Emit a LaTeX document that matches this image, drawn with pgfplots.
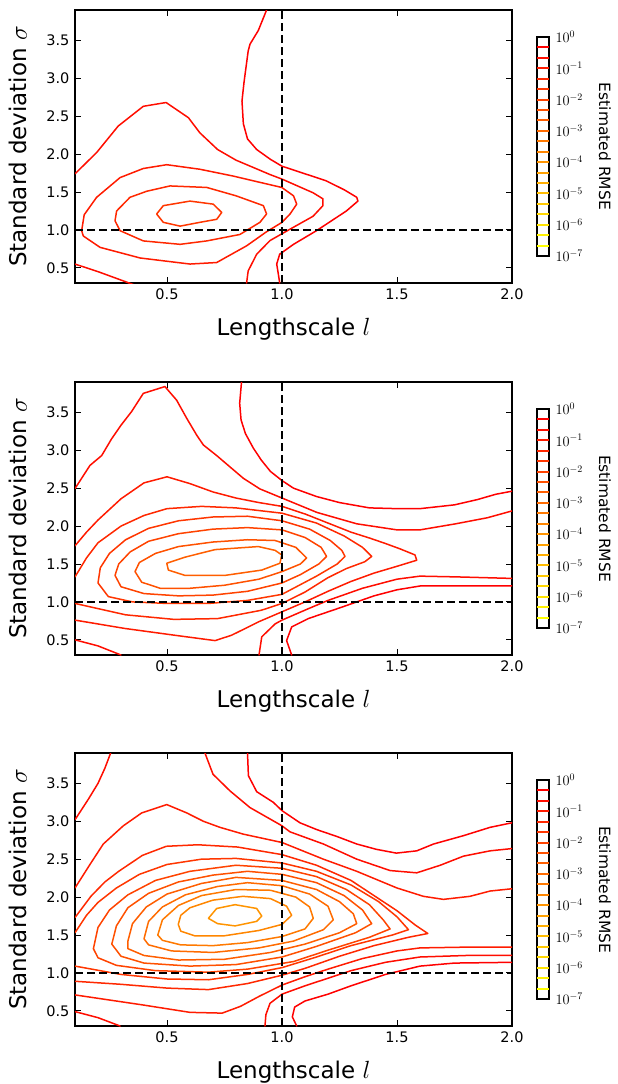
\documentclass[border=0pt]{standalone}
\usepackage{fontspec}
\setmainfont{DejaVu Sans}
\usepackage{pgfplots}
\pgfplotsset{compat=1.18}

\definecolor{c1}{rgb}{1,1,0}
\definecolor{c2}{rgb}{1,0.9474,0}
\definecolor{c3}{rgb}{1,0.8947,0}
\definecolor{c4}{rgb}{1,0.8421,0}
\definecolor{c5}{rgb}{1,0.7895,0}
\definecolor{c6}{rgb}{1,0.7368,0}
\definecolor{c7}{rgb}{1,0.6842,0}
\definecolor{c8}{rgb}{1,0.6316,0}
\definecolor{c9}{rgb}{1,0.5789,0}
\definecolor{c10}{rgb}{1,0.5263,0}
\definecolor{c11}{rgb}{1,0.4737,0}
\definecolor{c12}{rgb}{1,0.4211,0}
\definecolor{c13}{rgb}{1,0.3684,0}
\definecolor{c14}{rgb}{1,0.3158,0}
\definecolor{c15}{rgb}{1,0.2632,0}
\definecolor{c16}{rgb}{1,0.2105,0}
\definecolor{c17}{rgb}{1,0.1579,0}
\definecolor{c18}{rgb}{1,0.1053,0}
\definecolor{c19}{rgb}{1,0.0526,0}
\definecolor{c20}{rgb}{1,0,0}

\newcommand{\tickfont}{\fontsize{14.5pt}{17pt}\selectfont}
\newcommand{\labfont}{\fontsize{23pt}{27pt}\selectfont}
\newcommand{\cbfont}{\fontsize{14pt}{16pt}\selectfont}
\newcommand{\cblabfont}{\fontsize{15.5pt}{18pt}\selectfont}

\pgfplotsset{
  panel/.style={
    scale only axis, width=437pt, height=273pt,
    xmin=0.1, xmax=2.0, ymin=0.3, ymax=3.9,
    xtick={0.5,1.0,1.5,2.0}, ytick={0.5,1.0,1.5,2.0,2.5,3.0,3.5},
    tick align=inside, xtick pos=both, ytick pos=both,
    major tick length=6pt, minor tick num=0,
    tick style={black, line width=0.9pt},
    axis line style={black, line width=1.1pt},
    ticklabel style={font=\tickfont, /pgf/number format/fixed, /pgf/number format/fixed zerofill, /pgf/number format/precision=1, /pgf/number format/assume math mode=true},
    xticklabel style={yshift=-2pt},
    yticklabel style={xshift=-2pt},
    xlabel={Lengthscale $l$}, ylabel={Standard deviation $\sigma$},
    xlabel style={font=\labfont, at={(axis description cs:0.5,-0.194)}, anchor=base},
    ylabel style={font=\labfont, at={(axis description cs:-0.110,0.5)}, anchor=base},
  },
  cbar/.style={
    scale only axis, width=12pt, height=219pt,
    xmin=0, xmax=1, ymin=-7, ymax=0,
    xtick=\empty, ytick={-7,-6,-5,-4,-3,-2,-1,0},
    yticklabels={$10^{-7}$,$10^{-6}$,$10^{-5}$,$10^{-4}$,$10^{-3}$,$10^{-2}$,$10^{-1}$,$10^{0}$},
    ytick pos=right, yticklabel pos=right, tick align=inside, major tick length=4pt,
    tick style={black, line width=0.9pt},
    axis line style={black, line width=1.1pt},
    yticklabel style={font=\cbfont, xshift=3pt},
  },
  cl/.style={no markers, line width=1.5pt, line join=round, line cap=round},
  cbl/.style={no markers, line width=1.9pt},
  dl/.style={no markers, black, line width=1.5pt, dash pattern=on 8pt off 4pt},
}

\newcommand{\cbarlines}{%
\addplot[cbl,draw=c1] coordinates {(0,-6.6667) (1,-6.6667)};
\addplot[cbl,draw=c2] coordinates {(0,-6.3333) (1,-6.3333)};
\addplot[cbl,draw=c3] coordinates {(0,-6.0) (1,-6.0)};
\addplot[cbl,draw=c4] coordinates {(0,-5.6667) (1,-5.6667)};
\addplot[cbl,draw=c5] coordinates {(0,-5.3333) (1,-5.3333)};
\addplot[cbl,draw=c6] coordinates {(0,-5.0) (1,-5.0)};
\addplot[cbl,draw=c7] coordinates {(0,-4.6667) (1,-4.6667)};
\addplot[cbl,draw=c8] coordinates {(0,-4.3333) (1,-4.3333)};
\addplot[cbl,draw=c9] coordinates {(0,-4.0) (1,-4.0)};
\addplot[cbl,draw=c10] coordinates {(0,-3.6667) (1,-3.6667)};
\addplot[cbl,draw=c11] coordinates {(0,-3.3333) (1,-3.3333)};
\addplot[cbl,draw=c12] coordinates {(0,-3.0) (1,-3.0)};
\addplot[cbl,draw=c13] coordinates {(0,-2.6667) (1,-2.6667)};
\addplot[cbl,draw=c14] coordinates {(0,-2.3333) (1,-2.3333)};
\addplot[cbl,draw=c15] coordinates {(0,-2.0) (1,-2.0)};
\addplot[cbl,draw=c16] coordinates {(0,-1.6667) (1,-1.6667)};
\addplot[cbl,draw=c17] coordinates {(0,-1.3333) (1,-1.3333)};
\addplot[cbl,draw=c18] coordinates {(0,-1.0) (1,-1.0)};
\addplot[cbl,draw=c19] coordinates {(0,-0.6667) (1,-0.6667)};
\addplot[cbl,draw=c20] coordinates {(0,-0.3333) (1,-0.3333)};
}

\newcommand{\truelines}{%
\addplot[dl] coordinates {(1.0,0.3) (1.0,3.9)};
\addplot[dl] coordinates {(0.1,1.0) (2.0,1.0)};
}

\begin{document}
\begin{tikzpicture}
\useasboundingbox (0,0) rectangle (618pt,-1084pt);

% ---------------- Panel 1 ----------------
\begin{axis}[panel, at={(75pt,-10pt)}, anchor=north west]
\addplot[cl,draw=c20] coordinates {(0.933,3.9) (0.897,3.63) (0.861,3.45) (0.853,3.36) (0.835,2.95) (0.826,2.70) (0.832,2.40) (0.85,2.2) (0.89,2.06) (0.95,1.93) (1.0,1.84) (1.1,1.74) (1.19,1.65) (1.27,1.53) (1.325,1.43) (1.33,1.38) (1.28,1.25) (1.2,1.09) (1.15,0.99) (1.05,0.81) (0.99,0.68) (0.977,0.55) (0.985,0.4) (0.99,0.3)};
\addplot[cl,draw=c19] coordinates {(0.1,1.74) (0.194,2.02) (0.288,2.37) (0.397,2.63) (0.496,2.68) (0.593,2.48) (0.643,2.28) (0.72,2.06) (0.80,1.92) (0.948,1.73) (1.0,1.67) (1.135,1.49) (1.178,1.41) (1.178,1.32) (1.135,1.18) (1.035,1.01) (0.948,0.86) (0.89,0.68) (0.853,0.46) (0.846,0.3)};
\addplot[cl,draw=c19] coordinates {(0.1,0.55) (0.209,0.44) (0.353,0.28)};
\addplot[cl,draw=c18] coordinates {(0.129,0.99) (0.14,1.2) (0.194,1.43) (0.296,1.69) (0.397,1.81) (0.499,1.86) (0.643,1.80) (0.788,1.71) (0.9,1.63) (0.999,1.56) (1.05,1.45) (1.064,1.34) (1.035,1.21) (1.0,1.10) (0.93,0.97) (0.846,0.79) (0.716,0.57) (0.6,0.55) (0.383,0.63) (0.209,0.77) (0.136,0.92) (0.129,0.99)};
\addplot[cl,draw=c17] coordinates {(0.274,1.12) (0.281,1.25) (0.339,1.43) (0.412,1.51) (0.513,1.58) (0.673,1.56) (0.8,1.45) (0.919,1.32) (0.933,1.21) (0.904,1.10) (0.817,0.94) (0.673,0.855) (0.557,0.81) (0.397,0.855) (0.296,0.99) (0.274,1.12)};
\addplot[cl,draw=c16] coordinates {(0.455,1.21) (0.484,1.32) (0.6,1.38) (0.701,1.34) (0.738,1.23) (0.716,1.14) (0.643,1.10) (0.557,1.05) (0.484,1.10) (0.455,1.21)};
\truelines
\end{axis}

% ---------------- Panel 2 ----------------
\begin{axis}[panel, at={(75pt,-382pt)}, anchor=north west]
\addplot[cl,draw=c20] coordinates {(0.824,3.9) (0.816,3.62) (0.822,3.40) (0.841,3.22) (0.875,3.03) (0.91,2.87) (0.95,2.72) (1.0,2.60) (1.05,2.50) (1.15,2.39) (1.25,2.31) (1.38,2.24) (1.5,2.23) (1.6,2.23) (1.75,2.28) (1.85,2.35) (1.93,2.42) (2.0,2.46)};
\addplot[cl,draw=c19] coordinates {(0.1,2.495) (0.165,2.80) (0.216,2.93) (0.259,3.15) (0.30,3.33) (0.346,3.51) (0.397,3.75) (0.491,3.84) (0.542,3.66) (0.586,3.42) (0.629,3.20) (0.658,3.07) (0.716,2.93) (0.774,2.78) (0.832,2.63) (0.904,2.49) (1.0,2.37) (1.152,2.18) (1.325,2.03) (1.5,1.95) (1.6,1.95) (1.755,2.03) (1.893,2.11) (2.0,2.2)};
\addplot[cl,draw=c18] coordinates {(0.1,1.74) (0.15,1.92) (0.2,2.08) (0.25,2.22) (0.3,2.36) (0.4,2.57) (0.5,2.65) (0.6,2.56) (0.7,2.45) (0.8,2.37) (0.9,2.31) (1.0,2.26) (1.1,2.16) (1.2,2.04) (1.3,1.92) (1.383,1.84) (1.45,1.77) (1.513,1.70) (1.578,1.62) (1.586,1.55) (1.5,1.47) (1.4,1.38) (1.3,1.27) (1.2,1.14) (1.1,1.0) (1.0,0.87) (0.9,0.74) (0.854,0.67) (0.78,0.56) (0.709,0.49) (0.535,0.56) (0.317,0.65) (0.1,0.76)};
\addplot[cl,draw=c17] coordinates {(0.1,1.33) (0.15,1.58) (0.2,1.78) (0.3,2.0) (0.4,2.14) (0.5,2.23) (0.65,2.26) (0.8,2.24) (1.0,2.17) (1.15,2.04) (1.27,1.87) (1.35,1.72) (1.39,1.60) (1.36,1.53) (1.28,1.44) (1.2,1.32) (1.1,1.13) (1.0,0.98) (0.91,0.89) (0.72,0.78) (0.53,0.77) (0.32,0.83) (0.1,0.98)};
\addplot[cl,draw=c16] coordinates {(0.2,1.25) (0.21,1.45) (0.25,1.64) (0.32,1.82) (0.42,1.97) (0.55,2.07) (0.7,2.12) (0.85,2.13) (1.0,2.07) (1.12,1.96) (1.21,1.81) (1.26,1.68) (1.274,1.60) (1.24,1.50) (1.15,1.34) (1.0,1.10) (0.85,1.02) (0.68,0.98) (0.5,0.98) (0.35,1.0) (0.245,1.07) (0.2,1.25)};
\addplot[cl,draw=c15] coordinates {(0.274,1.35) (0.29,1.50) (0.34,1.66) (0.42,1.80) (0.55,1.90) (0.7,1.96) (0.85,1.98) (1.0,1.95) (1.1,1.85) (1.17,1.72) (1.194,1.60) (1.16,1.50) (1.08,1.36) (1.0,1.25) (0.85,1.14) (0.7,1.09) (0.55,1.08) (0.4,1.11) (0.3,1.20) (0.274,1.35)};
\addplot[cl,draw=c14] coordinates {(0.361,1.40) (0.38,1.52) (0.45,1.64) (0.55,1.73) (0.7,1.79) (0.85,1.82) (0.97,1.81) (1.06,1.72) (1.107,1.58) (1.08,1.50) (1.0,1.40) (0.9,1.30) (0.75,1.22) (0.6,1.18) (0.47,1.18) (0.39,1.26) (0.361,1.40)};
\addplot[cl,draw=c13] coordinates {(0.499,1.51) (0.506,1.42) (0.578,1.35) (0.752,1.35) (0.912,1.42) (0.991,1.51) (0.999,1.62) (0.97,1.68) (0.897,1.73) (0.709,1.69) (0.578,1.59) (0.499,1.51)};
\addplot[cl,draw=c19] coordinates {(0.9,0.3) (0.912,0.54) (0.97,0.71) (1.0,0.76) (1.114,0.91) (1.2,1.02) (1.35,1.18) (1.5,1.30) (1.6,1.34) (1.76,1.33) (2.0,1.31)};
\addplot[cl,draw=c20] coordinates {(1.042,0.3) (1.02,0.49) (1.042,0.67) (1.114,0.78) (1.259,0.93) (1.4,1.08) (1.5,1.16) (1.6,1.21) (1.8,1.21) (2.0,1.21)};
\addplot[cl,draw=c19] coordinates {(0.1,0.5) (0.2,0.42) (0.3,0.3)};
\truelines
\end{axis}

% ---------------- Panel 3 ----------------
\begin{axis}[panel, at={(75pt,-753pt)}, anchor=north west]
\addplot[cl,draw=c20] coordinates {(0.85,3.9) (0.854,3.6) (0.89,3.39) (0.962,3.25) (1.0,3.14) (1.078,2.98) (1.151,2.89) (1.238,2.80) (1.325,2.70) (1.41,2.63) (1.497,2.58) (1.586,2.61) (1.659,2.70) (1.789,2.81) (1.905,2.92) (2.0,2.98)};
\addplot[cl,draw=c19] coordinates {(0.665,3.9) (0.70,3.62) (0.774,3.40) (0.861,3.18) (0.948,3.03) (1.0,2.94) (1.035,2.86) (1.18,2.70) (1.325,2.50) (1.47,2.35) (1.586,2.32) (1.688,2.42) (1.789,2.54) (1.905,2.61) (2.0,2.64)};
\addplot[cl,draw=c19] coordinates {(0.255,3.9) (0.23,3.7) (0.2,3.5) (0.16,3.3) (0.1,3.02)};
\addplot[cl,draw=c18] coordinates {(0.1,2.12) (0.165,2.43) (0.223,2.70) (0.31,2.94) (0.39,3.11) (0.499,3.22) (0.586,3.11) (0.658,3.0) (0.73,2.92) (0.832,2.83) (1.0,2.72) (1.18,2.50) (1.325,2.34) (1.5,2.12) (1.615,2.01) (1.702,1.97) (1.817,2.01) (1.905,2.08) (2.0,2.11)};
\addplot[cl,draw=c17] coordinates {(0.1,1.73) (0.169,2.01) (0.23,2.20) (0.29,2.34) (0.393,2.55) (0.497,2.67) (0.634,2.69) (0.807,2.66) (1.0,2.56) (1.15,2.42) (1.3,2.22) (1.4,2.02) (1.5,1.82) (1.58,1.63) (1.634,1.52) (1.55,1.47) (1.4,1.36) (1.25,1.22) (1.1,1.06) (1.0,0.97) (0.85,0.86) (0.68,0.78) (0.5,0.80) (0.3,0.85) (0.1,0.89)};
\addplot[cl,draw=c16] coordinates {(0.1,1.53) (0.15,1.76) (0.2,1.93) (0.28,2.12) (0.38,2.30) (0.5,2.43) (0.65,2.50) (0.8,2.51) (1.0,2.45) (1.15,2.34) (1.3,2.16) (1.42,1.94) (1.5,1.74) (1.55,1.57) (1.48,1.50) (1.3,1.36) (1.15,1.21) (1.0,1.07) (0.85,0.98) (0.68,0.91) (0.5,0.92) (0.3,0.98) (0.1,1.09)};
\addplot[cl,draw=c15] coordinates {(0.18,1.32) (0.2,1.6) (0.25,1.83) (0.33,2.03) (0.45,2.22) (0.6,2.34) (0.8,2.42) (1.0,2.38) (1.15,2.27) (1.28,2.10) (1.38,1.90) (1.44,1.70) (1.47,1.58) (1.38,1.47) (1.2,1.30) (1.05,1.15) (0.85,1.05) (0.68,1.01) (0.45,1.03) (0.28,1.10) (0.2,1.2) (0.18,1.32)};
\addplot[cl,draw=c14] coordinates {(0.26,1.38) (0.28,1.62) (0.33,1.86) (0.42,2.05) (0.55,2.20) (0.7,2.29) (0.85,2.34) (1.0,2.30) (1.15,2.19) (1.27,2.02) (1.35,1.83) (1.39,1.65) (1.32,1.53) (1.15,1.35) (1.0,1.21) (0.8,1.11) (0.6,1.09) (0.4,1.13) (0.3,1.22) (0.26,1.38)};
\addplot[cl,draw=c13] coordinates {(0.33,1.42) (0.35,1.65) (0.41,1.87) (0.5,2.04) (0.65,2.18) (0.8,2.26) (1.0,2.22) (1.15,2.10) (1.25,1.94) (1.31,1.78) (1.325,1.65) (1.25,1.53) (1.1,1.38) (0.95,1.27) (0.75,1.18) (0.55,1.17) (0.4,1.23) (0.33,1.32) (0.33,1.42)};
\addplot[cl,draw=c12] coordinates {(0.40,1.45) (0.42,1.68) (0.48,1.87) (0.58,2.03) (0.72,2.14) (0.85,2.19) (1.0,2.15) (1.12,2.04) (1.2,1.88) (1.223,1.70) (1.18,1.57) (1.05,1.42) (0.9,1.33) (0.7,1.27) (0.52,1.29) (0.42,1.37) (0.40,1.45)};
\addplot[cl,draw=c11] coordinates {(0.46,1.50) (0.48,1.70) (0.55,1.89) (0.65,2.02) (0.8,2.10) (0.95,2.09) (1.06,2.0) (1.12,1.87) (1.136,1.72) (1.1,1.58) (1.0,1.48) (0.85,1.40) (0.7,1.36) (0.56,1.37) (0.48,1.43) (0.46,1.50)};
\addplot[cl,draw=c10] coordinates {(0.549,1.64) (0.56,1.76) (0.6,1.86) (0.7,1.96) (0.83,2.01) (0.95,1.98) (1.02,1.88) (1.042,1.76) (1.0,1.64) (0.9,1.56) (0.75,1.49) (0.62,1.49) (0.56,1.55) (0.549,1.64)};
\addplot[cl,draw=c9] coordinates {(0.68,1.72) (0.716,1.85) (0.796,1.90) (0.89,1.85) (0.912,1.75) (0.89,1.68) (0.796,1.62) (0.72,1.65) (0.68,1.72)};
\addplot[cl,draw=c18] coordinates {(0.1,0.71) (0.39,0.58) (0.6,0.48) (0.74,0.47) (0.82,0.56) (0.9,0.69) (1.0,0.84) (1.1,0.95) (1.2,1.05) (1.35,1.19) (1.5,1.29) (1.6,1.33) (1.8,1.34) (2.0,1.34)};
\addplot[cl,draw=c19] coordinates {(0.926,0.3) (0.93,0.45) (0.948,0.6) (1.0,0.72) (1.1,0.83) (1.2,0.93) (1.3,1.03) (1.45,1.14) (1.6,1.21) (1.8,1.23) (2.0,1.23)};
\addplot[cl,draw=c20] coordinates {(1.064,0.3) (1.045,0.42) (1.055,0.55) (1.1,0.63) (1.2,0.72) (1.3,0.83) (1.45,0.98) (1.6,1.09) (1.75,1.13) (2.0,1.14)};
\addplot[cl,draw=c19] coordinates {(0.1,0.49) (0.2,0.41) (0.296,0.3)};
\truelines
\end{axis}

% ---------------- Colour bars ----------------
\begin{axis}[cbar, at={(537pt,-37pt)}, anchor=north west]
\cbarlines
\end{axis}
\begin{axis}[cbar, at={(537pt,-409pt)}, anchor=north west]
\cbarlines
\end{axis}
\begin{axis}[cbar, at={(537pt,-780pt)}, anchor=north west]
\cbarlines
\end{axis}

\node[rotate=-90, font=\cblabfont, anchor=center] at (605pt,-146.5pt) {Estimated RMSE};
\node[rotate=-90, font=\cblabfont, anchor=center] at (605pt,-518.5pt) {Estimated RMSE};
\node[rotate=-90, font=\cblabfont, anchor=center] at (605pt,-889.5pt) {Estimated RMSE};
\end{tikzpicture}
\end{document}
